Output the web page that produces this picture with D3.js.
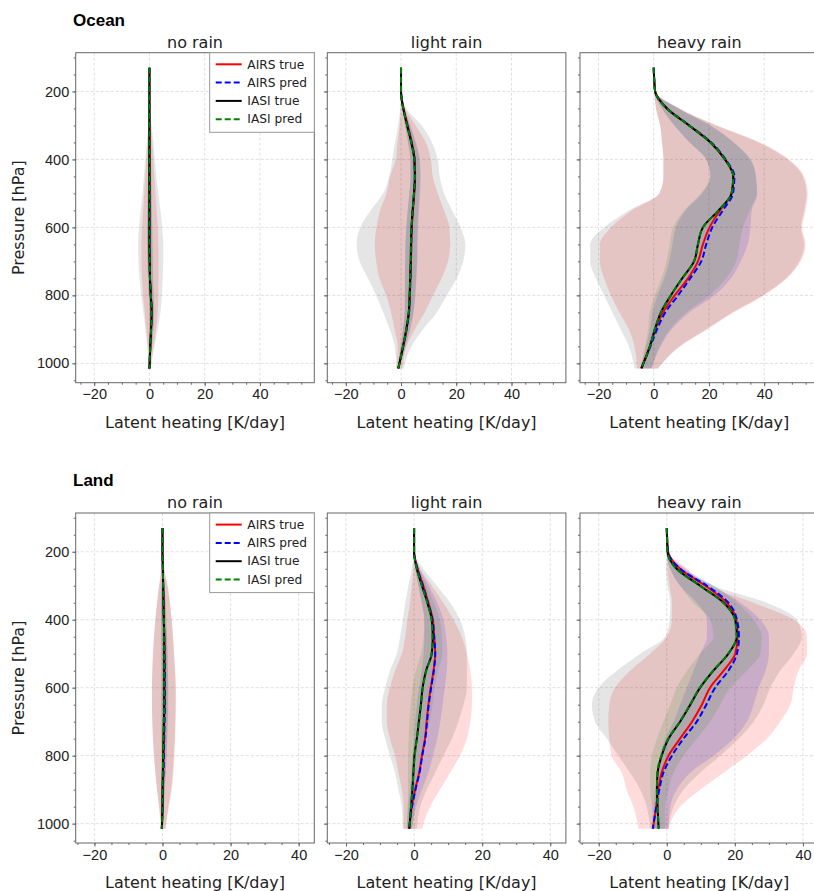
<!DOCTYPE html>
<html>
<head>
<meta charset="utf-8">
<style>
  body { margin: 0; background: #fff; }
  svg { display: block; font-family: "DejaVu Sans", sans-serif; }
  .axis path, .axis line { stroke: #666; }
  .axis text { fill: #222; font-size: 14.5px; }
</style>
</head>
<body>
<svg id="chart" width="814" height="891"></svg>
<script src="https://d3js.org/d3.v7.min.js"></script>
<script>
// pressure levels [hPa]
const levels = [130, 200, 250, 300, 350, 400, 450, 500, 550, 600, 650, 700, 750, 800, 850, 900, 950, 1015];

const rowNames = ["Ocean", "Land"];
const colNames = ["no rain", "light rain", "heavy rain"];
const seriesNames = ["AIRS true", "AIRS pred", "IASI true", "IASI pred"];
const xTicks = [-20, 0, 20, 40];
const yTicks = [200, 400, 600, 800, 1000];

// ---- Ocean, no rain
const oceanNoRain = {
  airsTrue:   [0, 0, 0, 0, 0, 0, 0, 0, 0, 0, 0, 0.1, 0.2, 0.5, 0.8, 0.6, 0.3, 0],
  airsPred:   [0, 0, 0, 0, 0, 0, 0, 0, 0, 0, 0, 0.1, 0.2, 0.5, 0.8, 0.6, 0.3, 0],
  iasiTrue:   [0, 0, 0, 0, 0, 0, 0, 0, 0, 0, 0, 0.1, 0.2, 0.5, 0.8, 0.6, 0.3, 0],
  iasiPred:   [0, 0, 0, 0, 0, 0, 0, 0, 0, 0, 0, 0.1, 0.2, 0.5, 0.8, 0.6, 0.3, 0],
  airsTrueLo: [0, 0, -0.1, -0.3, -0.7, -1.1, -1.5, -1.9, -2.3, -2.7, -2.9, -2.9, -2.7, -2.3, -1.7, -1.1, -0.6, 0],
  airsTrueHi: [0, 0, 0.1, 0.5, 1, 1.4, 1.8, 2.2, 2.6, 3, 3.2, 3.3, 3.3, 3.2, 3, 2.4, 1.5, 0.3],
  airsPredLo: [0, 0, 0, -0.2, -0.3, -0.4, -0.5, -0.6, -0.7, -0.8, -0.8, -0.7, -0.5, -0.2, 0.1, 0, -0.1, 0],
  airsPredHi: [0, 0, 0.1, 0.3, 0.5, 0.6, 0.7, 0.8, 0.9, 1, 1.1, 1.2, 1.3, 1.5, 1.7, 1.4, 0.9, 0.2],
  iasiTrueLo: [0, 0, -0.1, -0.5, -1, -1.5, -2, -2.5, -3.2, -3.8, -4.1, -4, -3.6, -3, -2.2, -1.5, -0.8, 0],
  iasiTrueHi: [0, 0, 0.2, 0.8, 1.5, 2, 2.5, 3.2, 4, 4.6, 5, 5, 4.8, 4.5, 4, 3, 1.8, 0.5],
  iasiPredLo: [0, 0, 0, -0.2, -0.3, -0.4, -0.5, -0.6, -0.7, -0.8, -0.8, -0.7, -0.5, -0.2, 0.1, 0, -0.1, 0],
  iasiPredHi: [0, 0, 0.1, 0.3, 0.5, 0.6, 0.7, 0.8, 0.9, 1, 1.1, 1.2, 1.3, 1.5, 1.7, 1.4, 0.9, 0.2]
};

// ---- Ocean, light rain
const oceanLight = {
  airsTrue:   [0, 0, 0.9, 2.4, 3.9, 4.9, 5.1, 4.8, 4.3, 3.9, 3.7, 3.6, 3.4, 3.2, 2.9, 2.0, 0.8, -1.0],
  airsPred:   [0, 0, 0.8, 2.3, 3.8, 4.9, 5.0, 4.7, 4.2, 3.9, 3.7, 3.6, 3.4, 3.2, 2.9, 2.0, 0.8, -1.0],
  iasiTrue:   [0, 0, 0.8, 2.2, 3.7, 4.8, 5.0, 4.7, 4.2, 3.8, 3.6, 3.5, 3.3, 3.1, 2.8, 1.9, 0.7, -1.0],
  iasiPred:   [0, 0, 0.8, 2.2, 3.7, 4.8, 5.0, 4.7, 4.2, 3.8, 3.6, 3.5, 3.3, 3.1, 2.8, 1.9, 0.7, -1.0],
  airsTrueLo: [0, 0, -0.1, -0.5, -1.3, -1.9, -4, -5.3, -7.6, -8.9, -9.5, -9, -7.8, -5.4, -3.6, -2.4, -1.2, -1.7],
  airsTrueHi: [0, 0, 1.5, 5.3, 9, 10.8, 11.5, 13.3, 15.6, 17.5, 17.8, 17, 14.7, 11.6, 8.6, 5, 2, 0.5],
  airsPredLo: [0, 0, 0.5, 1.5, 2.6, 3.4, 3.4, 3.0, 2.4, 1.9, 1.6, 1.5, 1.4, 1.4, 1.3, 0.7, -0.1, -1.3],
  airsPredHi: [0, 0, 1.3, 3.4, 5.4, 6.8, 7.1, 6.9, 6.5, 6.2, 6.0, 5.9, 5.6, 5.2, 4.6, 3.3, 1.7, -0.6],
  iasiTrueLo: [0, 0, -0.3, -1.1, -2.2, -3.2, -4.3, -6.5, -11, -14.8, -16.1, -15, -12, -9, -6.5, -4.1, -2.3, -1.7],
  iasiTrueHi: [0, 0, 1.9, 7.5, 11.2, 13.3, 14, 15.6, 18.5, 21.6, 23.3, 22.5, 20.2, 16.6, 13, 8, 3.8, 1.0],
  iasiPredLo: [0, 0, 0.5, 1.4, 2.5, 3.3, 3.4, 3.0, 2.4, 1.9, 1.6, 1.5, 1.4, 1.4, 1.3, 0.7, -0.1, -1.3],
  iasiPredHi: [0, 0, 1.2, 3.2, 5.2, 6.6, 6.9, 6.6, 6.2, 5.9, 5.8, 5.7, 5.4, 5.0, 4.4, 3.2, 1.6, -0.6]
};

// ---- Ocean, heavy rain
const oceanHeavy = {
  airsTrue:   [0, 0.5, 4.8, 12.8, 20.6, 25.8, 28.8, 28.2, 24, 20.2, 17.8, 16, 12.4, 7.6, 3.4, 0.6, -1.4, -4.5],
  airsPred:   [0, 0.5, 4.8, 12.9, 20.8, 26, 29.2, 28.7, 25, 21.2, 19, 17.2, 13.2, 8.8, 4.2, 1.2, -1.2, -4.5],
  iasiTrue:   [0, 0.5, 4.8, 12.8, 20.6, 25.8, 28.8, 28.2, 23.5, 17.8, 16, 14.6, 10.3, 6.2, 2.6, 0.4, -1.4, -4.5],
  iasiPred:   [0, 0.5, 4.8, 12.8, 20.6, 25.8, 28.8, 28.2, 23.5, 17.8, 16, 14.6, 10.3, 6.2, 2.6, 0.4, -1.4, -4.5],
  airsTrueLo: [0, 0.2, 0.8, 2.3, 3.0, 3.5, 3.5, 2, -8, -15.5, -19.5, -19.5, -18, -15.5, -12.5, -9, -7, -6],
  airsTrueHi: [0, 0.6, 9.4, 23, 38.5, 49, 54.5, 55.8, 55, 53.8, 55, 53.2, 48.3, 40, 29, 19.5, 9.6, 1.6],
  airsPredLo: [0, 0.2, 3, 7.5, 13, 19, 20.5, 17.5, 11.5, 8, 6.8, 5.6, 3.8, 1.4, -0.4, -1.3, -2.8, -4.8],
  airsPredHi: [0, 0.6, 9, 20.5, 29, 35, 37, 37.5, 35.5, 35, 34, 31.5, 28, 22, 13, 6.5, 2.5, -0.8],
  iasiTrueLo: [0, 0.2, 0.8, 2.3, 3.0, 3.5, 3.5, 2, -9, -18, -23, -23, -21, -18, -15, -12, -9, -7],
  iasiTrueHi: [0, 0.6, 9, 22.6, 38, 48.5, 54, 55.3, 54.5, 53.3, 54.5, 52.7, 47.9, 39.5, 28.6, 19, 9.4, 1.6],
  iasiPredLo: [0, 0.2, 3, 7.5, 13, 19, 20.5, 17, 11, 7, 5.8, 4.6, 2.8, 0.4, -1.4, -2, -3.2, -4.8],
  iasiPredHi: [0, 0.6, 9, 20.5, 29, 35, 37, 37.3, 34.7, 32.3, 31, 29.8, 26.2, 20.2, 11.8, 5.8, 2.2, -0.8]
};

// ---- Land, no rain
const landNoRain = {
  airsTrue:   [0, 0, 0.1, 0.2, 0.3, 0.4, 0.5, 0.6, 0.6, 0.6, 0.6, 0.5, 0.4, 0.3, 0.2, 0.1, 0, -0.2],
  airsPred:   [0, 0, 0.1, 0.2, 0.3, 0.4, 0.5, 0.6, 0.7, 0.7, 0.7, 0.6, 0.5, 0.4, 0.3, 0.1, 0, -0.2],
  iasiTrue:   [0, 0, 0.1, 0.2, 0.3, 0.4, 0.5, 0.5, 0.5, 0.5, 0.5, 0.4, 0.3, 0.2, 0.1, 0, 0, -0.2],
  iasiPred:   [0, 0, 0.1, 0.2, 0.3, 0.4, 0.5, 0.5, 0.5, 0.5, 0.5, 0.4, 0.3, 0.2, 0.1, 0, 0, -0.2],
  airsTrueLo: [0, 0, -0.3, -1.0, -1.6, -2.1, -2.5, -2.8, -3.0, -3.1, -3.1, -3.0, -2.8, -2.5, -2.1, -1.6, -1.0, -0.4],
  airsTrueHi: [0, 0, 0.5, 1.5, 2.2, 2.7, 3.1, 3.4, 3.7, 3.9, 3.9, 3.8, 3.7, 3.5, 3.2, 2.7, 1.9, 0.9],
  airsPredLo: [0, 0, -0.1, -0.3, -0.4, -0.4, -0.4, -0.3, -0.3, -0.3, -0.3, -0.3, -0.3, -0.3, -0.3, -0.3, -0.3, -0.3],
  airsPredHi: [0, 0, 0.3, 0.6, 0.9, 1.1, 1.3, 1.5, 1.6, 1.7, 1.7, 1.6, 1.4, 1.2, 1.0, 0.7, 0.4, 0],
  iasiTrueLo: [0, 0, -0.3, -1.0, -1.6, -2.1, -2.5, -2.8, -3.0, -3.1, -3.1, -3.0, -2.8, -2.5, -2.1, -1.6, -1.0, -0.4],
  iasiTrueHi: [0, 0, 0.5, 1.5, 2.2, 2.7, 3.1, 3.4, 3.7, 3.9, 3.9, 3.8, 3.6, 3.3, 3.0, 2.5, 1.7, 0.8],
  iasiPredLo: [0, 0, -0.1, -0.3, -0.4, -0.4, -0.4, -0.3, -0.3, -0.3, -0.3, -0.3, -0.3, -0.3, -0.3, -0.3, -0.3, -0.3],
  iasiPredHi: [0, 0, 0.3, 0.6, 0.9, 1.1, 1.3, 1.4, 1.5, 1.5, 1.5, 1.4, 1.3, 1.1, 0.9, 0.6, 0.4, 0]
};

// ---- Land, light rain
const landLight = {
  airsTrue:   [0, 0, 1.0, 2.7, 4.2, 5.5, 5.9, 6.2, 5.7, 4.9, 4.2, 3.7, 3.2, 2.3, 1.5, 0.3, -0.7, -1.4],
  airsPred:   [0, 0, 1.0, 2.6, 4.1, 5.4, 5.9, 6.2, 5.8, 5.0, 4.3, 3.8, 3.3, 2.4, 1.6, 0.4, -0.6, -1.4],
  iasiTrue:   [0, 0, 0.8, 2.3, 3.9, 5.2, 5.5, 5.2, 3.5, 2.5, 2.0, 1.4, 0.8, 0.1, -0.2, -0.5, -0.9, -1.4],
  iasiPred:   [0, 0, 0.8, 2.3, 3.9, 5.1, 5.4, 5.1, 3.6, 2.6, 2.0, 1.4, 0.8, 0.2, -0.2, -0.5, -0.9, -1.4],
  airsTrueLo: [0, 0, -0.2, -0.7, -1.2, -2, -2.6, -3.6, -5.6, -7.1, -8, -8, -7.1, -5.6, -4.6, -3.6, -3.1, -3.1],
  airsTrueHi: [0, 0, 1.8, 5.2, 8.6, 11.6, 14, 15.5, 16.5, 17, 17, 16.5, 15.5, 13.5, 10.6, 7.6, 4.7, 2.3],
  airsPredLo: [0, 0, 0.4, 1.3, 2.3, 3.0, 3.0, 2.8, 2.2, 1.5, 0.8, 0.3, 0, -0.5, -0.8, -1.3, -1.8, -2.2],
  airsPredHi: [0, 0, 1.7, 4.3, 6.8, 8.6, 9.4, 9.8, 9.6, 9.0, 8.4, 7.7, 6.8, 5.5, 4.2, 2.3, 0.6, -0.6],
  iasiTrueLo: [0, 0, -0.7, -1.7, -2.6, -3.3, -4.1, -5.1, -7.1, -8.5, -9.5, -9.5, -8.5, -7.1, -5.6, -4.6, -3.6, -3.3],
  iasiTrueHi: [0, 0, 2.7, 6.7, 10.6, 13.5, 15, 15.5, 15.5, 15.5, 14.5, 13, 11.1, 8.6, 6.2, 3.7, 1.8, 0.8],
  iasiPredLo: [0, 0, 0.3, 1.2, 2.2, 3.0, 2.8, 2.0, 0.5, -0.5, -1.0, -1.4, -1.6, -1.8, -1.8, -1.8, -1.9, -2.0],
  iasiPredHi: [0, 0, 1.4, 3.6, 5.8, 7.5, 8.2, 8.3, 7.0, 6.0, 5.4, 4.6, 3.6, 2.5, 1.6, 0.8, 0.2, -0.6]
};

// ---- Land, heavy rain
const landHeavy = {
  airsTrue:   [0, 0.4, 3.9, 11.3, 17.6, 20.4, 20.8, 20.1, 16.7, 12.7, 10.3, 7.4, 3.9, 0.5, -1.5, -2.5, -3.1, -4.1],
  airsPred:   [0, 0.4, 3.9, 11.8, 18.1, 20.6, 21.2, 20.6, 18.1, 14.2, 11.6, 8.8, 4.9, 1.5, -1.0, -2.2, -3.1, -4.1],
  iasiTrue:   [0, 0.2, 2.9, 9.8, 16.7, 20.1, 20.6, 18.1, 13.7, 9.8, 6.9, 3.9, 0.5, -1.5, -2.7, -2.9, -2.7, -2.4],
  iasiPred:   [0, 0.2, 2.8, 9.7, 16.6, 20.0, 20.5, 18.0, 13.6, 9.7, 6.8, 3.8, 0.4, -1.6, -2.8, -2.9, -2.7, -2.4],
  airsTrueLo: [0, 0, 0.2, 0.8, 1.5, 1.5, 0, -4.9, -10.8, -15.2, -16.9, -17.2, -16.9, -16.2, -13.2, -11.8, -9.8, -8.3],
  airsTrueHi: [0, 0.5, 6, 11.8, 25.5, 37.3, 41.2, 41.2, 38.7, 37.3, 36.3, 33.3, 29.4, 23.5, 16.7, 9.8, 3.9, 0.5],
  airsPredLo: [0, 0, 1, 3.9, 8.8, 11.8, 11.8, 9.8, 7.8, 5.9, 3.9, 2, -0.5, -2, -2.9, -3.4, -3.9, -3.9],
  airsPredHi: [0, 0.4, 5.5, 13.7, 21.6, 27.5, 30, 30, 29, 27, 25.5, 23.5, 19.6, 13.7, 6.9, 2.9, 1, 0.5],
  iasiTrueLo: [0, 0, -0.2, 0.2, 1, 0.8, -0.5, -7.8, -14.7, -20.1, -22, -21.1, -17.6, -14.2, -10.8, -7.8, -5.9, -4.9],
  iasiTrueHi: [0, 0.4, 5, 13.7, 29.4, 38.2, 39.7, 37.3, 33.3, 30.4, 28.4, 25.5, 21.1, 15.7, 9.8, 4.9, 2, 0.5],
  iasiPredLo: [0, 0, 1, 3.9, 7.8, 12.7, 13.7, 9.8, 5.9, 2.9, 1, -1, -2.9, -4.4, -4.9, -4.9, -4.4, -4.4],
  iasiPredHi: [0, 0.3, 4.5, 13.7, 20.6, 25.5, 27.9, 27.5, 23.5, 18.6, 15.7, 12.7, 8.8, 4.9, 2, 0.5, -0.5, -0.5]
};

const panelData = [[oceanNoRain, oceanLight, oceanHeavy], [landNoRain, landLight, landHeavy]];

// series styling (keys into the panel tables)
const series = [
  {name: seriesNames[0], key: "airsTrue", color: "red",   dash: null,  fill: "red",   op: 0.14},
  {name: seriesNames[1], key: "airsPred", color: "blue",  dash: "6,3", fill: "blue",  op: 0.12},
  {name: seriesNames[2], key: "iasiTrue", color: "black", dash: null,  fill: "#000",  op: 0.1},
  {name: seriesNames[3], key: "iasiPred", color: "green", dash: "6,3", fill: "green", op: 0.12}
];

// layout
const colLeft = [75.7, 327.3, 580];
const rowTop = [52.7, 513];
const pw = 238.6, ph = 330;
const xDomains = [[-26.7, 59.7], [-25.5, 44.6]];

const svg = d3.select("#chart");

rowNames.forEach(function(rn, r) {
  svg.append("text")
    .attr("x", 73).attr("y", rowTop[r] - 27)
    .attr("font-family", "Liberation Sans, Arial, sans-serif")
    .attr("font-weight", "bold").attr("font-size", 17)
    .text(rn);

  svg.append("text")
    .attr("transform", "translate(24," + (rowTop[r] + ph / 2) + ") rotate(-90)")
    .attr("text-anchor", "middle").attr("font-size", 16).attr("fill", "#222")
    .text("Pressure [hPa]");

  colNames.forEach(function(cn, c) {
    const d = panelData[r][c];
    const g = svg.append("g").attr("transform", "translate(" + colLeft[c] + "," + rowTop[r] + ")");

    const x = d3.scaleLinear().domain(xDomains[r]).range([0, pw]);
    const y = d3.scaleLinear().domain([86, 1057]).range([0, ph]);

    // grid
    g.append("g").selectAll("line").data(xTicks).enter().append("line")
      .attr("x1", x).attr("x2", x).attr("y1", 0).attr("y2", ph)
      .attr("stroke", "#ddd").attr("stroke-width", 0.9).attr("stroke-dasharray", "3,2");
    g.append("g").selectAll("line").data(yTicks).enter().append("line")
      .attr("y1", y).attr("y2", y).attr("x1", 0).attr("x2", pw)
      .attr("stroke", "#ddd").attr("stroke-width", 0.9).attr("stroke-dasharray", "3,2");

    // envelopes
    series.forEach(function(s) {
      const lo = d[s.key + "Lo"], hi = d[s.key + "Hi"];
      const area = d3.area()
        .y(function(p) { return y(p); })
        .x0(function(p, i) { return x(lo[i]); })
        .x1(function(p, i) { return x(hi[i]); })
        .curve(d3.curveMonotoneY);
      g.append("path").datum(levels)
        .attr("d", area)
        .attr("fill", s.fill).attr("fill-opacity", s.op);
    });

    // mean profiles
    series.forEach(function(s) {
      const vals = d[s.key];
      const line = d3.line()
        .y(function(p) { return y(p); })
        .x(function(p, i) { return x(vals[i]); })
        .curve(d3.curveMonotoneY);
      g.append("path").datum(levels)
        .attr("d", line)
        .attr("fill", "none").attr("stroke", s.color).attr("stroke-width", 2)
        .attr("stroke-dasharray", s.dash);
    });

    // axes
    const minX = d3.range(-25, xDomains[r][1], 5);
    g.append("g").attr("class", "axis").attr("transform", "translate(0," + ph + ")")
      .call(d3.axisBottom(x).tickValues(minX).tickSize(2).tickFormat(""))
      .call(function(a) { a.select(".domain").remove(); });
    g.append("g").attr("class", "axis").attr("transform", "translate(0," + ph + ")")
      .call(d3.axisBottom(x).tickValues(xTicks).tickSize(3.5).tickPadding(3))
      .call(function(a) { a.select(".domain").remove(); });

    g.append("g").attr("class", "axis")
      .call(d3.axisLeft(y).tickValues(d3.range(100, 1051, 50)).tickSize(2).tickFormat(""))
      .call(function(a) { a.select(".domain").remove(); });
    g.append("g").attr("class", "axis")
      .call(d3.axisLeft(y).tickValues(yTicks).tickSize(3.5).tickPadding(3)
        .tickFormat(c === 0 ? d3.format("d") : ""))
      .call(function(a) { a.select(".domain").remove(); });

    // frame
    g.append("rect").attr("width", pw).attr("height", ph)
      .attr("fill", "none").attr("stroke", "#666").attr("stroke-width", 1);

    g.append("text")
      .attr("x", pw / 2).attr("y", -5)
      .attr("text-anchor", "middle").attr("font-size", 16).attr("fill", "#222")
      .text(cn);

    g.append("text")
      .attr("x", pw / 2).attr("y", ph + 45)
      .attr("text-anchor", "middle").attr("font-size", 16).attr("fill", "#222")
      .text("Latent heating [K/day]");

    // legend in first column
    if (c === 0) {
      const lg = g.append("g").attr("transform", "translate(" + (pw - 104.6) + ",0)");
      lg.append("rect").attr("width", 104.6).attr("height", 79.6)
        .attr("fill", "#fff").attr("stroke", "#999").attr("stroke-width", 1);
      const item = lg.selectAll("g.item").data(series).enter().append("g")
        .attr("class", "item")
        .attr("transform", function(s, i) { return "translate(0," + (11.6 + i * 18.3) + ")"; });
      item.append("line").attr("x1", 6).attr("x2", 32)
        .attr("stroke", function(s) { return s.color; }).attr("stroke-width", 2)
        .attr("stroke-dasharray", function(s) { return s.dash; });
      item.append("text").attr("x", 37.6).attr("dy", "0.35em")
        .attr("font-size", 12.2).attr("fill", "#222")
        .text(function(s) { return s.name; });
    }
  });
});
</script>
</body>
</html>
